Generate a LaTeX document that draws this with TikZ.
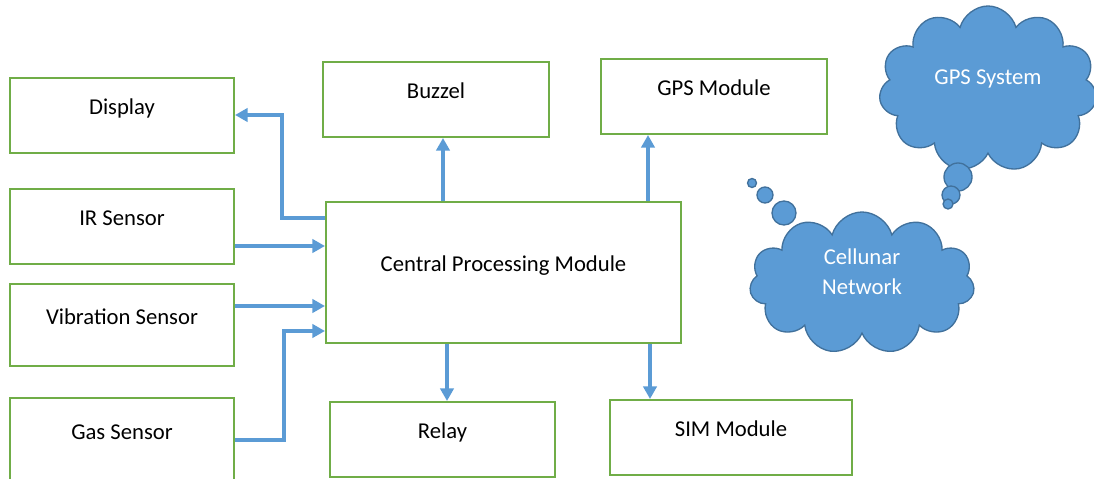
\documentclass[tikz,border=0pt]{standalone}
\usepackage{fontspec}
\setmainfont{Carlito}
\usetikzlibrary{arrows.meta,calc,shapes.symbols}
\definecolor{boxgreen}{HTML}{70AD47}
\definecolor{linkblue}{HTML}{5B9BD5}
\definecolor{cloudline}{HTML}{41719C}

\begin{document}
\begin{tikzpicture}[x=0.75pt,y=-0.75pt,
  main node/.style={draw=boxgreen,line width=1.5pt,inner sep=0pt,minimum width=168pt,minimum height=56.25pt,
    text height=11pt,text depth=12pt,font=\fontsize{17}{22.5}\selectfont},
  cloud node/.style={cloud,cloud puffs=11,cloud ignores aspect,draw=cloudline,fill=linkblue,line width=1pt,
    inner sep=0pt,text=white,font=\fontsize{17}{22.5}\selectfont},
  bubble/.style={fill=linkblue,draw=cloudline,line width=1pt},
  link/.style={draw=linkblue,line width=3pt,-{Triangle[length=9.5pt,width=10pt]}}]
  \useasboundingbox (0,0) rectangle (1094,478);
  \node[main node] (1) at (122,115) {Display};
  \node[main node] (2) at (122,226.5) {IR Sensor};
  \node[main node,minimum height=61.5pt] (3) at (122,325) {Vibration Sensor};
  \node[main node,minimum height=63pt] (4) at (122,440) {Gas Sensor};
  \node[main node,minimum width=266.25pt,minimum height=105.75pt] (5) at (503.5,272.5) {Central Processing Module};
  \node[main node,minimum width=169.5pt] (6) at (436,99.5) {Buzzel};
  \node[main node,minimum width=169.5pt] (7) at (714,96.5) {GPS Module};
  \node[main node,minimum width=168.75pt] (8) at (442.5,439.5) {Relay};
  \node[main node,minimum width=181.5pt] (9) at (731,437.5) {SIM Module};
  \node[cloud node,minimum width=163.5pt,minimum height=124.5pt] (10) at (988,89)
    {\raisebox{3.5pt}[0pt][0pt]{GPS System}};
  \node[cloud node,minimum width=168.75pt,minimum height=106.5pt] (11) at (862,283)
    {\raisebox{3pt}[0pt][0pt]{\begin{tabular}{@{}c@{}}Cellunar\\Network\end{tabular}}};

  \path[bubble] (752,183) circle[radius=4.5] (765,195) circle[radius=8] (784,213) circle[radius=12];
  \path[bubble] (958,177) circle[radius=14];
  \path[bubble] (951,195) circle[radius=9];
  \path[bubble] (948,204) circle[radius=5];

  \draw[link] ($(5.west)+(0,-54.5)$) -- ++(-43,0) |- (1.east);
  \draw[link] ($(2.east)+(0,19.5)$) coordinate (a) -- (a -| 5.west);
  \draw[link] ($(3.east)+(0,-19)$) coordinate (b) -- (b -| 5.west);
  \draw[link] (4.east) -- ++(49,0) |- ($(5.west)+(0,58.5)$);
  \draw[link] ($(5.north)+(-60.5,0)$) coordinate (c) -- (c |- 6.south);
  \draw[link] ($(5.north)+(144.5,0)$) coordinate (d) -- (d |- 7.south);
  \draw[link] ($(5.south)+(-56.5,0)$) coordinate (e) -- (e |- 8.north);
  \draw[link] ($(5.south)+(146.5,0)$) coordinate (f) -- (f |- 9.north);
\end{tikzpicture}
\end{document}
